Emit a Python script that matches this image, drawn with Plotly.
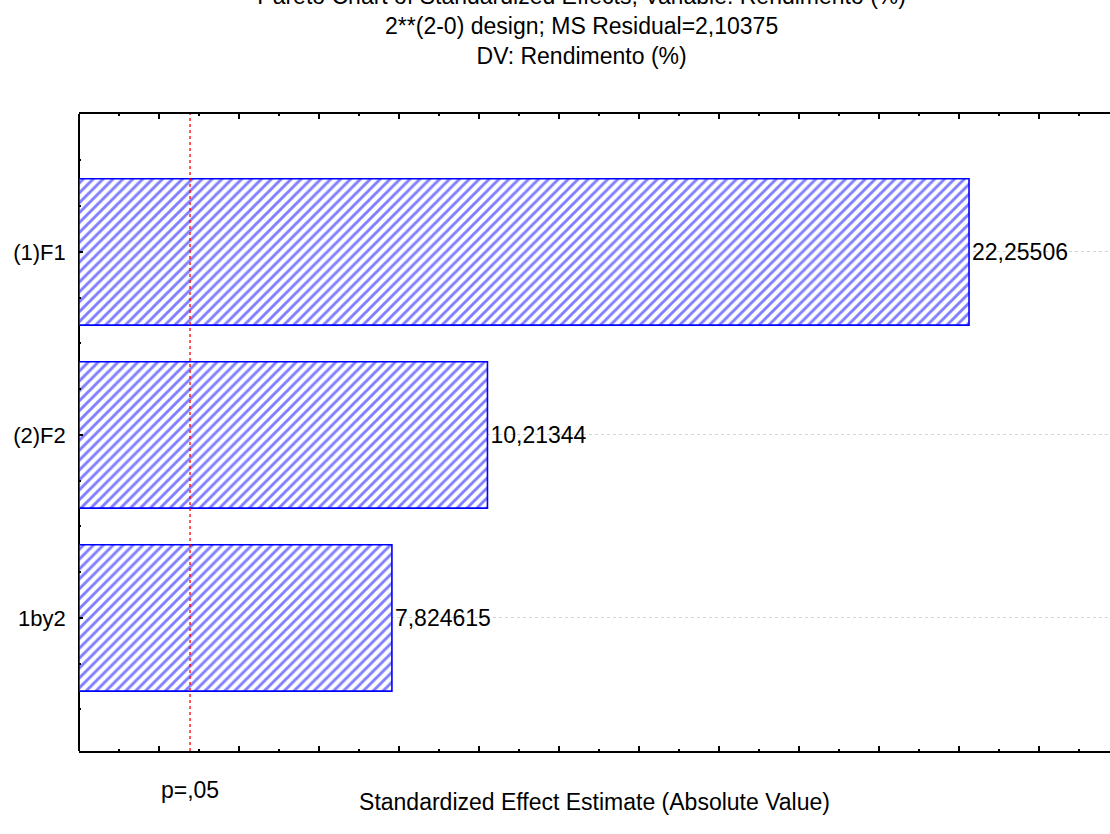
import plotly.graph_objects as go

# Pareto chart of standardized effects (2**(2-0) design)
effects = ["(1)F1", "(2)F2", "1by2"]
effect_values = [22.25506, 10.21344, 7.824615]
t_critical = 2.776445          # t(0.975; df=4) -> p = .05 reference line
p_label = "p=,05"

title_lines = [
    "Pareto Chart of Standardized Effects; Variable: Rendimento (%)",
    "2**(2-0) design; MS Residual=2,10375",
    "DV: Rendimento (%)",
]
x_title = "Standardized Effect Estimate (Absolute Value)"

FONT = dict(family="Liberation Sans, Arial, sans-serif", size=23, color="black")
TICK_FONT = dict(family="Liberation Sans, Arial, sans-serif", size=22, color="black")
BLUE = "#0000ff"
X_RANGE = [0, 25.78]
PAD = "\u00a0\u00a0"           # gap between category labels and the axis

y_pos = list(range(len(effects)))
value_text = [f"{v:.7g}".replace(".", ",") for v in effect_values]

fig = go.Figure()
fig.add_trace(go.Bar(
    x=effect_values,
    y=y_pos,
    orientation="h",
    width=0.8,
    text=value_text,
    textposition="outside",
    textfont=FONT,
    cliponaxis=False,
    marker=dict(
        color="white",
        line=dict(color=BLUE, width=1.6),
        pattern=dict(shape="/", fgcolor=BLUE, bgcolor="white", size=7, solidity=0.42),
    ),
))
# companion trace for the axis carrying the significance label
fig.add_trace(go.Scatter(x=[], y=[], xaxis="x2", yaxis="y", showlegend=False))

# significance threshold line
fig.add_vline(x=t_critical, line=dict(color="red", width=1.3, dash="dot"), layer="above")

fig.update_layout(
    width=1110, height=834,
    margin=dict(l=79, r=0, t=114, b=83, autoexpand=False),
    paper_bgcolor="white", plot_bgcolor="white",
    showlegend=False,
    font=FONT,
    hovermode=False,
    title=dict(
        text="<br>".join(title_lines),
        font=FONT,
        x=0.524, xref="container", xanchor="center",
        y=1, yref="container", yanchor="top",
        pad=dict(t=4),
    ),
    xaxis=dict(
        range=X_RANGE,
        showline=True, linecolor="black", linewidth=1.5, mirror="ticks",
        ticks="inside", ticklen=5, tickwidth=1.5, tickcolor="black",
        tick0=0, dtick=2,
        minor=dict(ticks="inside", ticklen=2, tickwidth=1.5, tickcolor="black",
                   dtick=1, tick0=0, showgrid=False),
        showticklabels=False, showgrid=False,
        # left spine drawn as the x = 0 line
        zeroline=True, zerolinecolor="black", zerolinewidth=1.5,
        title=dict(text=x_title, font=FONT, standoff=42),
        automargin=False,
    ),
    xaxis2=dict(
        range=X_RANGE, overlaying="x", side="bottom", anchor="y",
        showline=False, showgrid=False, zeroline=False,
        tickmode="array", tickvals=[t_critical], ticktext=[p_label],
        ticks="outside", ticklen=18, tickcolor="rgba(0,0,0,0)",
        tickfont=FONT, automargin=False,
    ),
)
fig.update_yaxes(
    range=[2.727, -0.754],
    tickmode="array", tickvals=y_pos, ticktext=[e + PAD for e in effects],
    tickfont=TICK_FONT,
    showline=False, mirror=False,
    ticks="inside", ticklen=4, tickwidth=1.5, tickcolor="black",
    minor=dict(ticks="inside", ticklen=2, tickwidth=1.5, tickcolor="black",
               tickmode="linear", dtick=0.25, tick0=0, showgrid=False),
    showgrid=True, gridcolor="#d4d4d4", gridwidth=1, griddash="dot",
    zeroline=False, automargin=False,
)

fig.write_html("out.html")
